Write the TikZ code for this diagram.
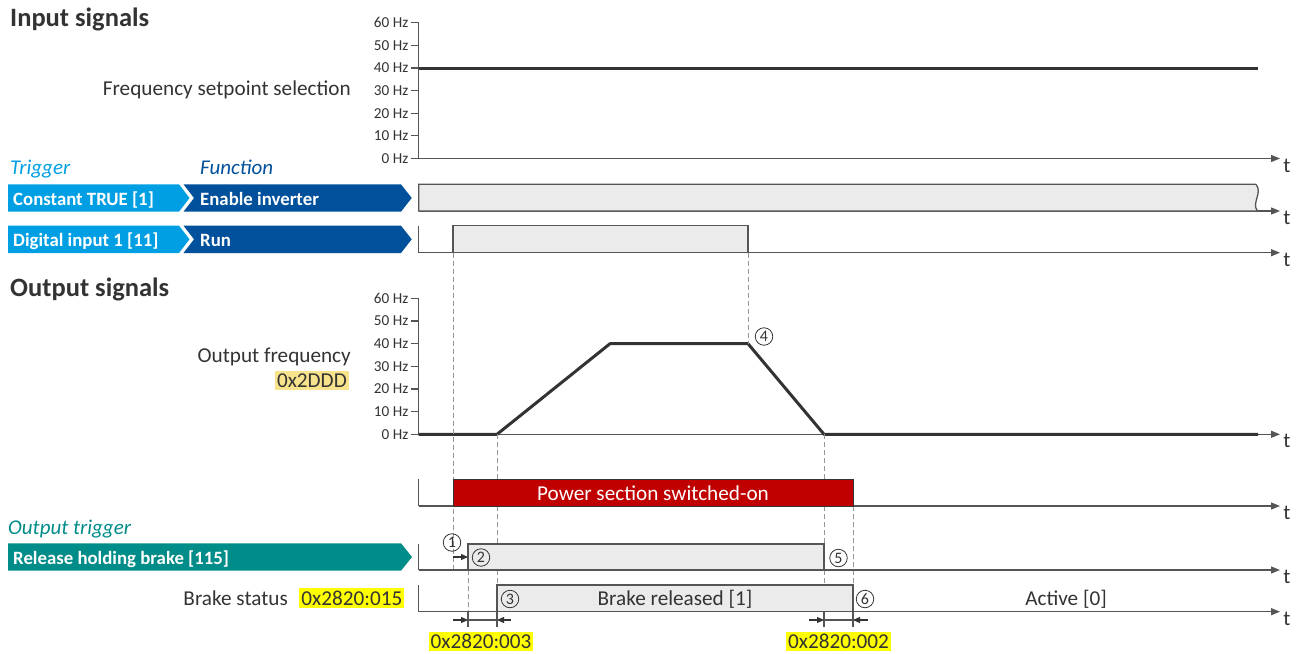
\documentclass[tikz,border=0pt]{standalone}
\usepackage{fontspec}
\setmainfont{Carlito}
\usetikzlibrary{arrows.meta}
\definecolor{lcyan}{RGB}{0,159,227}
\definecolor{ldblue}{RGB}{0,80,155}
\definecolor{lteal}{RGB}{0,140,136}
\definecolor{lred}{RGB}{192,0,0}
\definecolor{txtgray}{RGB}{51,51,51}
\definecolor{axgray}{RGB}{85,85,85}
\definecolor{boxgray}{RGB}{235,235,235}
\definecolor{dashgray}{RGB}{150,150,150}
\definecolor{hlyellow}{RGB}{255,255,0}
\definecolor{hlpale}{RGB}{247,227,139}
\begin{document}
\begin{tikzpicture}[x=1pt,y=-1pt,
  txt/.style={text=txtgray,font=\fontsize{21.2}{25}\selectfont,inner sep=0pt},
  ttl/.style={text=txtgray,font=\bfseries\fontsize{26.5}{31}\selectfont,inner sep=0pt,anchor=base west},
  itl/.style={font=\itshape\fontsize{21}{25}\selectfont,inner sep=0pt,anchor=base west},
  hz/.style={text=txtgray,font=\fontsize{15.2}{17}\selectfont,inner sep=0pt,anchor=east},
  bartxt/.style={text=white,font=\bfseries\fontsize{18.8}{22}\selectfont,inner sep=0pt,anchor=base west},
  axis/.style={draw=axgray,line width=1.3pt},
  taxis/.style={axis,-{Triangle[length=9pt,width=7pt]}},
  sig/.style={draw=axgray,line width=1.3pt,fill=boxgray},
  dsh/.style={draw=dashgray,line width=0.9pt,dash pattern=on 5pt off 3pt},
  tick/.style={draw=axgray,line width=1.2pt},
  dim/.style={draw=txtgray,line width=1.1pt,-{Triangle[length=7pt,width=6pt]}},
  curve/.style={draw=txtgray,line width=3pt,line join=round},
  num/.style={circle,draw=txtgray,line width=0.8pt,minimum size=17.5pt,inner sep=0pt,text=txtgray,font=\fontsize{16}{16}\selectfont},
  hl/.style={txt,fill=hlyellow,inner xsep=2pt,inner ysep=2.5pt},
  tlab/.style={txt}]
\useasboundingbox (0,0) rectangle (1300,653);

% ---------- titles ----------
\node[ttl] (tin) at (10,27) {Input signals};
\node[ttl] (tout) at (10,296) {Output signals};
\node[itl,text=lcyan] (ttrig) at (10,174) {Trigger};
\node[itl,text=ldblue] (tfun) at (200,174) {Function};
\node[itl,text=lteal] (totrig) at (8,534) {Output trigger};

% ---------- input frequency chart ----------
\node[txt,anchor=base east] (lfs) at (351,95) {Frequency setpoint selection};
\coordinate (ya1) at (418.7,22.7);
\coordinate (yo1) at (418.7,158.5);
\coordinate (xe1) at (1280,158.5);
\draw[axis] (ya1) -- (yo1);
\draw[taxis] (yo1) -- (xe1);
\node[txt] (t1) at (1287,165.5) {t};
\foreach \v [count=\i from 0] in {0,10,20,30,40,50,60}{
  \pgfmathsetmacro{\yy}{158.5-\i*22.63}
  \draw[tick] (411,\yy) -- (418.7,\yy);
  \node[hz] (hzA\i) at (408.5,\yy) {\v\ Hz};
}
\coordinate (fs0) at (418.7,68);
\coordinate (fs1) at (1258,68);
\draw[curve] (fs0) -- (fs1);

% ---------- trigger / function bars ----------
\fill[lcyan] (8,184.3) -- (179,184.3) -- (189.5,198) -- (179,211.7) -- (8,211.7) -- cycle;
\fill[ldblue] (183.5,184.3) -- (401,184.3) -- (411.7,198) -- (401,211.7) -- (183.5,211.7) -- (194,198) -- cycle;
\node[bartxt] (b1a) at (13,205) {Constant TRUE [1]};
\node[bartxt] (b1b) at (200,205) {Enable inverter};

\fill[lcyan] (8,225.7) -- (179,225.7) -- (189.5,239.3) -- (179,253) -- (8,253) -- cycle;
\fill[ldblue] (183.5,225.7) -- (401,225.7) -- (411.7,239.3) -- (401,253) -- (183.5,253) -- (194,239.3) -- cycle;
\node[bartxt] (b2a) at (13,246.3) {Digital input 1 [11]};
\node[bartxt] (b2b) at (200,246.3) {Run};

\fill[lteal] (8,543.3) -- (401,543.3) -- (412,557) -- (401,570.7) -- (8,570.7) -- cycle;
\node[bartxt] (b3a) at (13,564) {Release holding brake [115]};

% ---------- Enable inverter signal ----------
\draw[taxis] (418.7,211) -- (1280,211);
\node[txt] (t2) at (1287,218) {t};
\draw[sig] (1256,184.3) -- (418.7,184.3) -- (418.7,211) -- (1257.5,211)
  .. controls (1251,203) and (1263,193) .. (1256,184.3);

% ---------- Run signal ----------
\draw[taxis] (418.7,252.7) -- (1280,252.7);
\node[txt] (t3) at (1287,259.7) {t};
\draw[axis] (418.7,225.7) -- (418.7,252.7);
\draw[sig] (453,252.7) rectangle (748,225.7);

% ---------- output frequency chart ----------
\node[txt,anchor=base east] (lof) at (351,362.7) {Output frequency};
\node[hl,anchor=base east,fill=hlpale] (lofp) at (349,387) {0x2DDD};
\coordinate (ya2) at (418.7,298.3);
\coordinate (yo2) at (418.7,434.3);
\coordinate (xe2) at (1280,434.3);
\draw[axis] (ya2) -- (yo2);
\draw[taxis] (yo2) -- (xe2);
\node[txt] (t4) at (1287,441.3) {t};
\foreach \v [count=\i from 0] in {0,10,20,30,40,50,60}{
  \pgfmathsetmacro{\yy}{434.3-\i*22.67}
  \draw[tick] (411,\yy) -- (418.7,\yy);
  \node[hz] (hzB\i) at (408.5,\yy) {\v\ Hz};
}
\coordinate (c0) at (418.7,434.3);
\coordinate (c1) at (497,434.3);
\coordinate (c2) at (610,343.7);
\coordinate (c3) at (748,343.7);
\coordinate (c4) at (824,434.3);
\coordinate (c5) at (1258,434.3);
\draw[curve] (c0) -- (c1) -- (c2) -- (c3) -- (c4) -- (c5);
\node[num] (n4) at (764,336.5) {4};

% ---------- dashed guide lines ----------
\draw[dsh] (453,252.7) -- (453,570);
\draw[dsh] (748,252.7) -- (c3);
\draw[dsh] (c1) -- (497,585);
\draw[dsh] (c4) -- (824,544);
\draw[dsh] (824,570) -- (824,611.7);
\draw[dsh] (468,570) -- (468,611.7);
\draw[dsh] (853,506) -- (853,585);

% ---------- power section ----------
\draw[taxis] (418.7,506) -- (1280,506);
\node[txt] (t5) at (1287,513) {t};
\draw[axis] (418.7,479.3) -- (418.7,506);
\draw[draw=txtgray,line width=1pt,fill=lred] (453,506) rectangle (853,479.3);
\node[txt,text=white,anchor=base] (lps) at (653,500) {Power section switched-on};

% ---------- release holding brake ----------
\draw[taxis] (418.7,570) -- (1280,570);
\node[txt] (t6) at (1287,577) {t};
\draw[axis] (418.7,544) -- (418.7,570);
\draw[sig] (468,570) rectangle (824,544);
\node[num] (n1) at (452,542.5) {1};
\node[num] (n2) at (481,557.5) {2};
\node[num] (n5) at (838.5,558) {5};
\draw[dim] (453,557) -- (468,557);

% ---------- brake status ----------
\node[txt,anchor=base east] (lbs) at (288,605.5) {Brake status};
\node[hl,anchor=base east] (lbsp) at (404.5,605) {0x2820:015};
\draw[taxis] (418.7,611.7) -- (1280,611.7);
\node[txt] (t7) at (1287,618.7) {t};
\draw[axis] (418.7,585) -- (418.7,611.7);
\draw[sig] (497,611.7) rectangle (853,585);
\node[num] (n3) at (510,599) {3};
\node[num] (n6) at (865,599) {6};
\node[txt,anchor=base] (lbr) at (675,605.5) {Brake released [1]};
\node[txt,anchor=base] (lac) at (1066,605.5) {Active [0]};

% ---------- dimensions ----------
\draw[tick] (468,611.7) -- (468,627);
\draw[tick] (497,611.7) -- (497,627);
\draw[tick] (824,611.7) -- (824,627);
\draw[tick] (853,611.7) -- (853,627);
\draw[tick] (468,620) -- (497,620);
\draw[tick] (824,620) -- (853,620);
\draw[dim] (453,620) -- (468,620);
\draw[dim] (511,620) -- (497,620);
\draw[dim] (809,620) -- (824,620);
\draw[dim] (868,620) -- (853,620);
\node[hl,anchor=base] (d1) at (481,648.5) {0x2820:003};
\node[hl,anchor=base] (d2) at (838.5,648.5) {0x2820:002};
\end{tikzpicture}
\end{document}
